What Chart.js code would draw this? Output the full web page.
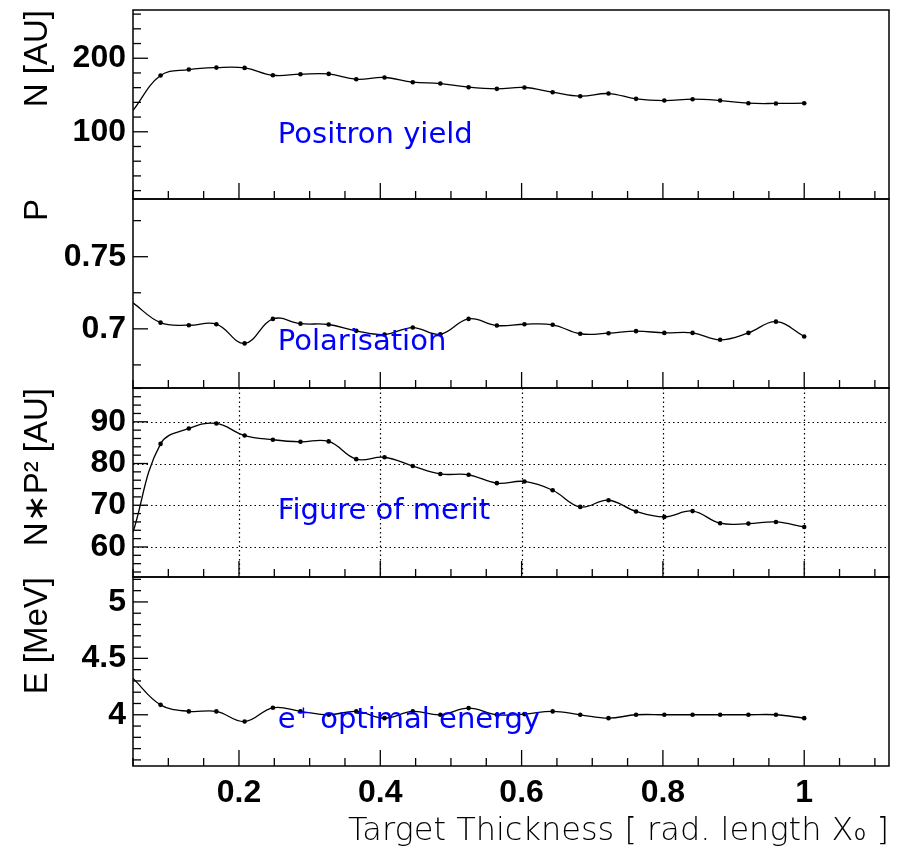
<!DOCTYPE html>
<html>
<head>
<meta charset="utf-8">
<script src="https://cdn.jsdelivr.net/npm/chart.js@4/dist/chart.umd.min.js"></script>
<style>
  html, body { margin: 0; padding: 0; background: #fff; }
  #wrap { width: 907px; height: 852px; position: relative; }
</style>
</head>
<body>
<div id="wrap"><canvas id="chart" width="907" height="852"></canvas></div>
<script>
// target thickness in radiation lengths (first entry sits on the left frame edge)
const thickness = [0.05, 0.089, 0.129, 0.168, 0.208, 0.248, 0.287, 0.327, 0.366, 0.406, 0.446, 0.485,
                   0.525, 0.565, 0.604, 0.644, 0.683, 0.723, 0.762, 0.802, 0.842, 0.881, 0.921, 0.960, 1.0];

const positronYield = [129, 176.5, 184.6, 187.3, 186.9, 176.9, 178.3, 178.7, 171.5, 173.8, 167.4, 165.6,
                       160.6, 158.4, 160.2, 153.8, 148.4, 152.0, 144.8, 142.5, 144.3, 142.5, 138.9, 138.5, 138.9];

const polarisation = [0.718, 0.7043, 0.7025, 0.7032, 0.6899, 0.7069, 0.7036, 0.7030, 0.6986, 0.6961, 0.7009, 0.6963,
                      0.7069, 0.7023, 0.7032, 0.7028, 0.6966, 0.6970, 0.6984, 0.6972, 0.6972, 0.6924, 0.6972, 0.7050, 0.6947];

const figureOfMerit = [63.5, 84.7, 88.4, 89.6, 86.7, 85.7, 85.2, 85.3, 81.05, 81.5, 79.4, 77.5,
                       77.3, 75.3, 75.7, 73.6, 69.6, 71.2, 68.5, 67.2, 68.6, 65.7, 65.6, 66.0, 64.8];

const optimalEnergy = [4.322, 4.088, 4.03, 4.03, 3.94, 4.062, 4.03, 4.0, 4.03, 3.97, 4.03, 4.0,
                       4.059, 4.0, 4.006, 4.03, 4.0, 3.97, 4.0, 4.0, 4.0, 4.0, 4.0, 4.0, 3.97];

const xTickLabels = ["0.2", "0.4", "0.6", "0.8", "1"];
const nTickLabels = ["100", "200"];
const pTickLabels = ["0.7", "0.75"];
const meritTickLabels = ["60", "70", "80", "90"];
const energyTickLabels = ["4", "4.5", "5"];

const panels = [
    { id: "y1", values: positronYield, min: 8.6, max: 265.6, step: 20, labels: nTickLabels,
      title: "N [AU]", text: "Positron yield", textY: 0.704, grid: false },
    { id: "y2", values: polarisation, min: 0.659, max: 0.79, step: 0.025, labels: pTickLabels,
      title: "P", text: "Polarisation", textY: 0.80, grid: false },
    { id: "y3", values: figureOfMerit, min: 52.8, max: 98.1, step: 2, labels: meritTickLabels,
      title: "N\u2217P\u00B2 [AU]", text: "Figure of merit", textY: 0.695, grid: true },
    { id: "y4", values: optimalEnergy, min: 3.546, max: 5.221, step: 0.1, labels: energyTickLabels,
      title: "E [MeV]", text: "e\u207A optimal energy", textY: 0.80, grid: false }
];

const sansFont = "'Liberation Sans', Arial, Helvetica, sans-serif";

function fmt(v) {
    return String(parseFloat(Number(v).toFixed(4)));
}

function noPadding(s) {
    s.paddingTop = 0;
    s.paddingBottom = 0;
    s.paddingLeft = 0;
    s.paddingRight = 0;
}

const scales = {
    x: {
        type: "linear",
        min: 0.05,
        max: 1.12,
        afterFit: function (s) { s.height = 86; noPadding(s); },
        grid: { display: false, drawTicks: false },
        border: { display: false },
        ticks: {
            stepSize: 0.05,
            autoSkip: false,
            includeBounds: false,
            maxRotation: 0,
            padding: 8,
            color: "#000",
            font: { family: sansFont, size: 32, weight: "bold" },
            callback: function (v) { return xTickLabels.includes(fmt(v)) ? fmt(v) : ""; }
        },
        title: {
            display: true,
            text: "Target Thickness [ rad. length X\u2080 ]",
            align: "end",
            color: "#000",
            font: { family: "'DejaVu Sans', sans-serif", size: 32, weight: 200 },
            padding: { top: 0, bottom: 1 }
        }
    }
};

// stacked left axes are laid out last-defined on top, so add them bottom panel first
panels.slice().reverse().forEach(function (p) {
    scales[p.id] = {
        type: "linear",
        position: "left",
        stack: "panels",
        stackWeight: 1,
        min: p.min,
        max: p.max,
        afterFit: function (s) { s.width = 133; noPadding(s); },
        grid: { display: false, drawTicks: false },
        border: { display: false },
        ticks: {
            stepSize: p.step,
            autoSkip: false,
            includeBounds: false,
            padding: 7,
            color: "#000",
            font: { family: sansFont, size: 32, weight: "bold" },
            callback: function (v) { return p.labels.includes(fmt(v)) ? fmt(v) : ""; }
        },
        title: {
            display: true,
            text: p.title,
            align: "end",
            color: "#000",
            font: { family: sansFont, size: 33 },
            padding: { top: 18.5, bottom: 0 }
        }
    };
});

// ROOT-like frames, inward tick marks, dotted grid and blue captions
const framePlugin = {
    id: "frame",
    beforeDatasetsDraw: function (chart) {
        const ctx = chart.ctx;
        const area = chart.chartArea;
        const xs = chart.scales.x;
        panels.forEach(function (p) {
            if (!p.grid) return;
            const ys = chart.scales[p.id];
            ctx.save();
            ctx.setLineDash([1.5, 3]);
            ctx.lineWidth = 1.2;
            ctx.strokeStyle = "#000";
            ys.ticks.forEach(function (t) {
                if (t.label === "") return;
                const y = Math.round(ys.getPixelForValue(t.value)) + 0.5;
                ctx.beginPath();
                ctx.moveTo(area.left, y);
                ctx.lineTo(area.right, y);
                ctx.stroke();
            });
            xs.ticks.forEach(function (t) {
                if (t.label === "") return;
                const x = Math.round(xs.getPixelForValue(t.value)) + 0.5;
                ctx.beginPath();
                ctx.moveTo(x, ys.top);
                ctx.lineTo(x, ys.bottom);
                ctx.stroke();
            });
            ctx.restore();
        });
    },
    afterDatasetsDraw: function (chart) {
        const ctx = chart.ctx;
        const area = chart.chartArea;
        const xs = chart.scales.x;
        ctx.save();
        ctx.strokeStyle = "#000";
        ctx.lineWidth = 1.3;
        panels.forEach(function (p) {
            const ys = chart.scales[p.id];
            ys.ticks.forEach(function (t) {
                const y = ys.getPixelForValue(t.value);
                const len = t.label === "" ? 8 : 15;
                ctx.beginPath();
                ctx.moveTo(area.left, y);
                ctx.lineTo(area.left + len, y);
                ctx.stroke();
            });
            xs.ticks.forEach(function (t) {
                const x = xs.getPixelForValue(t.value);
                const len = t.label === "" ? 8 : 16;
                ctx.beginPath();
                ctx.moveTo(x, ys.bottom);
                ctx.lineTo(x, ys.bottom - len);
                ctx.stroke();
            });
            ctx.lineWidth = 1.5;
            ctx.strokeRect(area.left, ys.top, area.right - area.left, ys.bottom - ys.top);
            ctx.lineWidth = 1.3;

            ctx.fillStyle = "#0000ff";
            ctx.font = "29px 'DejaVu Sans', sans-serif";
            ctx.textBaseline = "alphabetic";
            ctx.textAlign = "left";
            ctx.fillText(p.text, xs.getPixelForValue(0.255), ys.top + p.textY * (ys.bottom - ys.top));
        });
        ctx.restore();
    }
};

new Chart(document.getElementById("chart"), {
    type: "line",
    data: {
        datasets: panels.map(function (p) {
            return {
                data: thickness.map(function (x, i) { return { x: x, y: p.values[i] }; }),
                yAxisID: p.id,
                borderColor: "#000",
                borderWidth: 1.3,
                tension: 0.4,
                fill: false,
                pointRadius: function (c) { return c.dataIndex === 0 ? 0 : 2.3; },
                pointBackgroundColor: "#000",
                pointBorderWidth: 0
            };
        })
    },
    options: {
        responsive: false,
        animation: false,
        devicePixelRatio: 1,
        layout: { padding: { top: 10, right: 18, left: 0, bottom: 0 } },
        plugins: { legend: { display: false }, tooltip: { enabled: false } },
        scales: scales
    },
    plugins: [framePlugin]
});
</script>
</body>
</html>
